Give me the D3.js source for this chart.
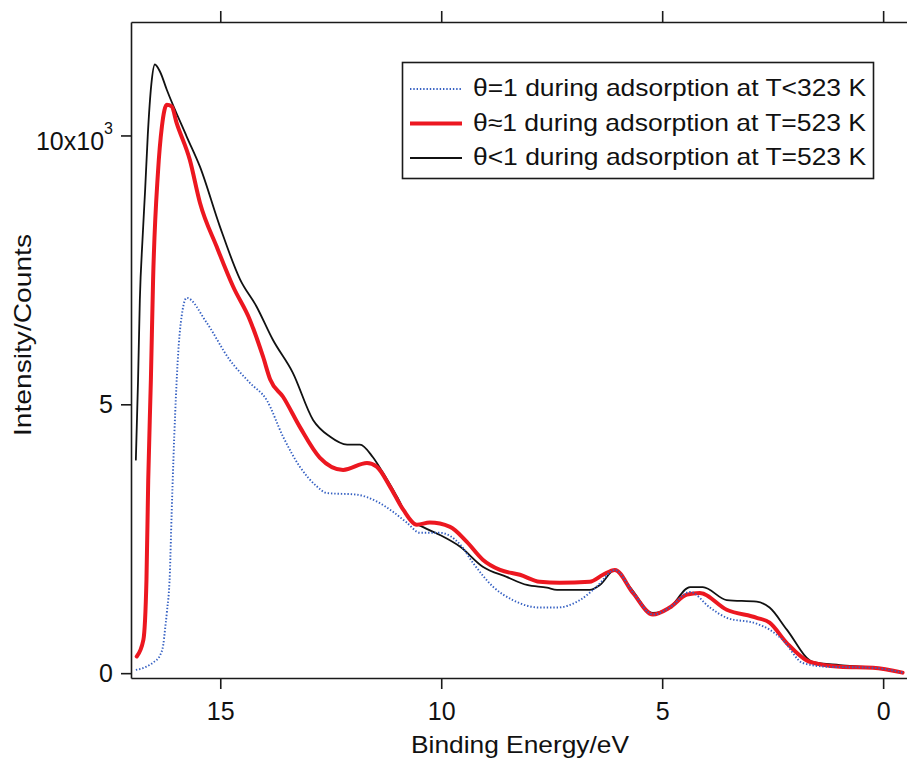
<!DOCTYPE html>
<html>
<head>
<meta charset="utf-8">
<script src="https://cdn.jsdelivr.net/npm/d3@7"></script>
<style>
  html, body { margin: 0; padding: 0; background: #fff; }
  svg { display: block; font-family: "Liberation Sans", Arial, Helvetica, sans-serif; }
</style>
</head>
<body>
<script>
/* jshint browser:true */
// binding energy (eV) and intensity (counts)
var blueEnergy = [16.91, 16.67, 16.50, 16.37, 16.29, 16.25, 16.21, 16.14, 16.10, 16.02, 15.91, 15.76,
  15.31, 14.79, 14.33, 13.95, 13.58, 13.20, 12.81, 12.59, 11.91, 11.45, 11.09, 10.78,
  10.48, 10.03, 9.57, 9.28, 8.83, 8.38, 7.77, 7.38, 6.86, 6.48, 6.07, 5.66, 5.21, 4.83,
  4.37, 3.92, 3.54, 2.86, 2.57, 2.27, 1.82, 1.28, 0.23, -0.44];
var blueCounts = [60, 120, 210, 320, 530, 810, 1120, 1870, 2980, 4840, 6390, 6980,
  6520, 5830, 5400, 5080, 4400, 3840, 3470, 3350, 3320, 3190, 3000, 2800,
  2610, 2610, 2390, 2050, 1610, 1360, 1220, 1220, 1360, 1610, 1920, 1500, 1090, 1220,
  1510, 1220, 1030, 920, 810, 620, 190, 120, 100, 10];

var redEnergy = [16.89, 16.74, 16.67, 16.63, 16.57, 16.52, 16.41, 16.32, 16.21, 16.10,
  15.99, 15.69, 15.46, 15.08, 14.71, 14.33, 14.03, 13.87, 13.58, 13.20, 12.75, 12.22,
  11.68, 11.46, 11.16, 10.86, 10.55, 10.26, 9.80, 9.42, 9.06, 8.67, 8.22, 7.77, 7.32,
  6.64, 6.34, 6.07, 5.66, 5.21, 4.83, 4.44, 4.15, 3.54, 2.86, 2.57, 2.18, 1.66, 0.98,
  0.23, -0.44];
var redCounts = [310, 620, 1740, 3600, 5460, 7320, 9310, 10170, 10570, 10540,
  10240, 9550, 8750, 7930, 7190, 6570, 5880, 5460, 5140, 4580, 4010, 3780,
  3910, 3840, 3470, 3040, 2760, 2800, 2720, 2440, 2110, 1920, 1830, 1700, 1680,
  1700, 1830, 1920, 1490, 1090, 1220, 1460, 1490, 1180, 1030, 940, 560, 210, 120,
  100, 10];

var blackEnergy = [16.91, 16.86, 16.82, 16.76, 16.70, 16.64, 16.56, 16.48, 16.36, 16.21,
  15.76, 15.46, 15.01, 14.55, 14.18, 13.81, 13.36, 12.90, 12.52, 12.13, 11.84, 11.55,
  11.32, 11.00, 10.71, 10.42, 10.03, 9.57, 9.06, 8.52, 8.06, 7.61, 7.38, 6.64, 6.41,
  6.07, 5.73, 5.21, 4.83, 4.37, 4.08, 3.54, 2.86, 2.57, 2.18, 1.59, 0.98, 0.23, -0.44];
var blackCounts = [3970, 5460, 6940, 8060, 8990, 10010, 10950, 11320, 11180, 10850,
  9980, 9420, 8310, 7320, 6820, 6200, 5590, 4710, 4400, 4250, 4250, 4020,
  3730, 3280, 2850, 2720, 2570, 2350, 1980, 1790, 1640, 1590, 1550, 1550, 1640,
  1920, 1600, 1120, 1220, 1600, 1600, 1360, 1330, 1220, 810, 210, 150, 100, 10];

var seriesNames = [
  '\u03b8=1 during adsorption at T<323 K',
  '\u03b8\u22481 during adsorption at T=523 K',
  '\u03b8<1 during adsorption at T=523 K'
];

var xTicks = [15, 10, 5, 0];
var yTicks = [0, 5000, 10000];
var yTickLabels = ['0', '5', '10x10'];

(function draw() {
  'use strict';

  var svg, x, y, plot, line, series, legend;

  svg = d3.select('body').append('svg')
      .attr('width', 907)
      .attr('height', 761)
  ;

  x = d3.scaleLinear().domain([17.02, -0.54]).range([131, 907]);
  y = d3.scaleLinear().domain([-90, 12110]).range([678, 22]);

  svg.append('defs').append('clipPath')
      .attr('id', 'plot-clip')
    .append('rect')
      .attr('x', 131)
      .attr('y', 22)
      .attr('width', 776)
      .attr('height', 656)
  ;

  function zip(es, cs) {
    return es.map(function(e, i) { return [e, cs[i]]; });
  }

  series = [
    { name: seriesNames[0], data: zip(blueEnergy, blueCounts), color: '#3560c2', width: 1.9, dash: '1.4,1.9', order: 2 },
    { name: seriesNames[1], data: zip(redEnergy, redCounts), color: '#ec1720', width: 4, dash: null, order: 1 },
    { name: seriesNames[2], data: zip(blackEnergy, blackCounts), color: '#111', width: 1.8, dash: null, order: 0 }
  ];

  line = d3.line()
      .x(function(d) { return x(d[0]); })
      .y(function(d) { return y(d[1]); })
      .curve(d3.curveMonotoneX)
  ;

  plot = svg.append('g').attr('clip-path', 'url(#plot-clip)');

  series.slice().sort(function(a, b) { return a.order - b.order; })
    .forEach(function(s) {
      plot.append('path')
          .datum(s.data)
          .attr('d', line)
          .attr('fill', 'none')
          .attr('stroke', s.color)
          .attr('stroke-width', s.width)
          .attr('stroke-dasharray', s.dash)
          .attr('stroke-linejoin', 'round')
          .attr('stroke-linecap', s.dash ? 'butt' : 'round')
      ;
    });

  // axes
  var axisColor = '#1a1a1a';

  var gx = svg.append('g')
      .attr('transform', 'translate(0,678)')
      .call(d3.axisBottom(x).tickValues(xTicks).tickSize(11).tickSizeOuter(0).tickPadding(13)
        .tickFormat(d3.format('d')))
  ;
  var gt = svg.append('g')
      .attr('transform', 'translate(0,22)')
      .call(d3.axisTop(x).tickValues(xTicks).tickSize(11).tickSizeOuter(0).tickFormat(''))
  ;
  var gy = svg.append('g')
      .attr('transform', 'translate(131,0)')
      .call(d3.axisLeft(y).tickValues(yTicks).tickSize(10).tickSizeOuter(0).tickPadding(8)
        .tickFormat(function(d, i) { return yTickLabels[i]; }))
  ;

  [gx, gt, gy].forEach(function(g) {
    g.select('.domain').attr('stroke', axisColor).attr('stroke-width', 1.6);
    g.selectAll('.tick line').attr('stroke', axisColor).attr('stroke-width', 1.6);
    g.selectAll('.tick text')
        .attr('fill', '#111')
        .style('font-size', '25px')
        .style('font-family', '"Liberation Sans", Arial, Helvetica, sans-serif')
    ;
  });

  // exponent on the top y label
  gy.selectAll('.tick text')
      .filter(function(d) { return d === 10000; })
      .attr('dy', '0.55em')
      .append('tspan')
      .attr('dy', -16)
      .style('font-size', '16px')
      .text('3')
  ;

  svg.append('text')
      .attr('x', 520)
      .attr('y', 753)
      .attr('text-anchor', 'middle')
      .attr('textLength', 218)
      .attr('lengthAdjust', 'spacingAndGlyphs')
      .style('font-size', '24px')
      .attr('fill', '#111')
      .text('Binding Energy/eV')
  ;

  svg.append('text')
      .attr('transform', 'translate(31,335) rotate(-90)')
      .attr('text-anchor', 'middle')
      .attr('textLength', 202)
      .attr('lengthAdjust', 'spacingAndGlyphs')
      .style('font-size', '24px')
      .attr('fill', '#111')
      .text('Intensity/Counts')
  ;

  // legend
  legend = svg.append('g');

  legend.append('rect')
      .attr('x', 402.5)
      .attr('y', 62.5)
      .attr('width', 471)
      .attr('height', 116)
      .attr('fill', '#fff')
      .attr('stroke', axisColor)
      .attr('stroke-width', 1.6)
  ;

  series.forEach(function(s, i) {
    var base = 96 + i * 34.5;
    legend.append('line')
        .attr('x1', 410)
        .attr('x2', 462)
        .attr('y1', base - 7)
        .attr('y2', base - 7)
        .attr('stroke', s.color)
        .attr('stroke-width', s.width)
        .attr('stroke-dasharray', s.dash)
    ;
    legend.append('text')
        .attr('x', 473)
        .attr('y', base)
        .attr('textLength', 393)
        .attr('lengthAdjust', 'spacingAndGlyphs')
        .style('font-size', '24px')
        .attr('fill', '#111')
        .text(s.name)
    ;
  });
})();
</script>
</body>
</html>
